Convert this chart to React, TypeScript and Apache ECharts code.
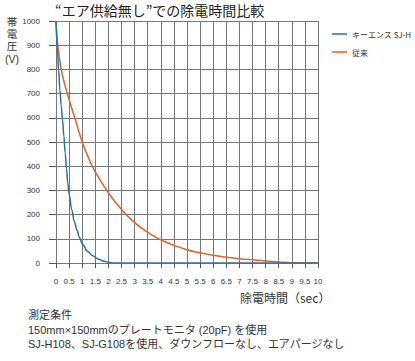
import React, { useEffect, useRef } from "react";
import * as echarts from "echarts";

const titleText = "“エア供給無し”での除電時間比較";
const yNameLines = ["帯", "電", "圧", "(V)"];
const xName = "除電時間（sec）";
const notes = [
  "測定条件",
  "150mm×150mmのプレートモニタ (20pF) を使用",
  "SJ-H108、SJ-G108を使用、ダウンフローなし、エアパージなし",
];

const seriesNames = ["キーエンス SJ-H", "従来"];

const keyenceTime = [0, 0.05, 0.1, 0.15, 0.2, 0.25, 0.3, 0.35, 0.4, 0.45, 0.5, 0.6, 0.7, 0.8, 0.9, 1.0, 1.2, 1.4, 1.6, 1.8, 2.0, 2.2, 3, 10];
const keyenceVolt = [1000, 890, 795, 715, 650, 590, 525, 455, 390, 330, 285, 220, 172, 135, 104, 80, 49, 30, 17, 8, 3, 0, 0, 0];

const conventionalTime = [0, 0.05, 0.1, 0.2, 0.3, 0.4, 0.5, 0.75, 1, 1.25, 1.5, 2, 2.5, 3, 3.5, 4, 4.5, 5, 5.5, 6, 6.5, 7, 7.5, 8, 8.5, 9, 10];
const conventionalVolt = [1000, 920, 870, 800, 752, 712, 675, 588, 500, 432, 376, 290, 221, 167, 127, 96, 73, 55, 42, 32, 24, 18, 13, 8, 4, 1, 0];

const colors = ["#2c6fae", "#e0622c"];
const latin = "'Liberation Sans', 'Noto Sans CJK JP', sans-serif";
const cjk = "'Noto Sans CJK JP', 'Liberation Sans', sans-serif";

export default function App() {
  const ref = useRef<HTMLDivElement>(null);
  useEffect(() => {
    if (!ref.current) return;
    const chart = echarts.init(ref.current, undefined, { renderer: "svg" });
    const zip = (t: number[], v: number[]) => t.map((x, i) => [x, v[i]]);
    const graphics: any[] = [
      {
        type: "text",
        left: 55,
        top: 3,
        style: { text: titleText, fontSize: 14, fill: "#222", fontFamily: cjk },
      },
      ...yNameLines.map((s, i) => ({
        type: "text",
        x: 12,
        y: 21.5 + i * 12.4,
        style: {
          text: s,
          fontSize: 10.5,
          lineHeight: 10.5,
          fill: "#333",
          fontFamily: latin,
          align: "center",
          verticalAlign: "middle",
        },
      })),
      {
        type: "text",
        x: 240,
        y: 297,
        style: { text: xName, fontSize: 12, fill: "#333", fontFamily: cjk, verticalAlign: "middle" },
      },
      ...notes.map((s, i) => ({
        type: "text",
        x: 28,
        y: 315 + i * 14.5,
        style: { text: s, fontSize: 11, fill: "#333", fontFamily: latin, verticalAlign: "middle" },
      })),
    ];
    chart.setOption({
      animation: false,
      grid: { left: 56, top: 21, width: 262, height: 242, containLabel: false },
      legend: {
        orient: "vertical",
        left: 327,
        top: 24,
        icon: "rect",
        itemWidth: 15,
        itemHeight: 1.5,
        itemGap: 8,
        textStyle: { fontSize: 8, color: "#333", fontFamily: cjk, lineHeight: 10 },
        data: seriesNames,
      },
      xAxis: {
        type: "value",
        min: 0,
        max: 10,
        interval: 0.5,
        offset: 5,
        axisLine: { show: false },
        axisTick: { show: true, length: 5, lineStyle: { color: "#555" } },
        axisLabel: { fontSize: 8, color: "#333", margin: 9, fontFamily: latin },
        splitLine: { show: true, lineStyle: { color: "#777", width: 1 } },
      },
      yAxis: {
        type: "value",
        min: 0,
        max: 1000,
        interval: 100,
        offset: 7,
        axisLine: { show: false },
        axisTick: { show: true, length: 7, lineStyle: { color: "#555" } },
        axisLabel: {
          fontSize: 8,
          color: "#333",
          margin: 9,
          fontFamily: latin,
          formatter: (v: number) => String(v),
        },
        splitLine: { show: true, lineStyle: { color: "#777", width: 1 } },
      },
      series: [
        {
          name: seriesNames[1],
          type: "line",
          data: zip(conventionalTime, conventionalVolt),
          symbol: "none",
          smooth: 0.5,
          lineStyle: { color: colors[1], width: 1.5 },
          itemStyle: { color: colors[1] },
          z: 3,
        },
        {
          name: seriesNames[0],
          type: "line",
          data: zip(keyenceTime, keyenceVolt),
          symbol: "none",
          smooth: 0.4,
          smoothMonotone: "x",
          lineStyle: { color: colors[0], width: 1.5 },
          itemStyle: { color: colors[0] },
          z: 4,
        },
      ],
      graphic: graphics,
    });
    return () => chart.dispose();
  }, []);
  return (
    <div
      ref={ref}
      style={{ position: "fixed", left: 0, top: 0, width: 415, height: 361, background: "#fff" }}
    />
  );
}
